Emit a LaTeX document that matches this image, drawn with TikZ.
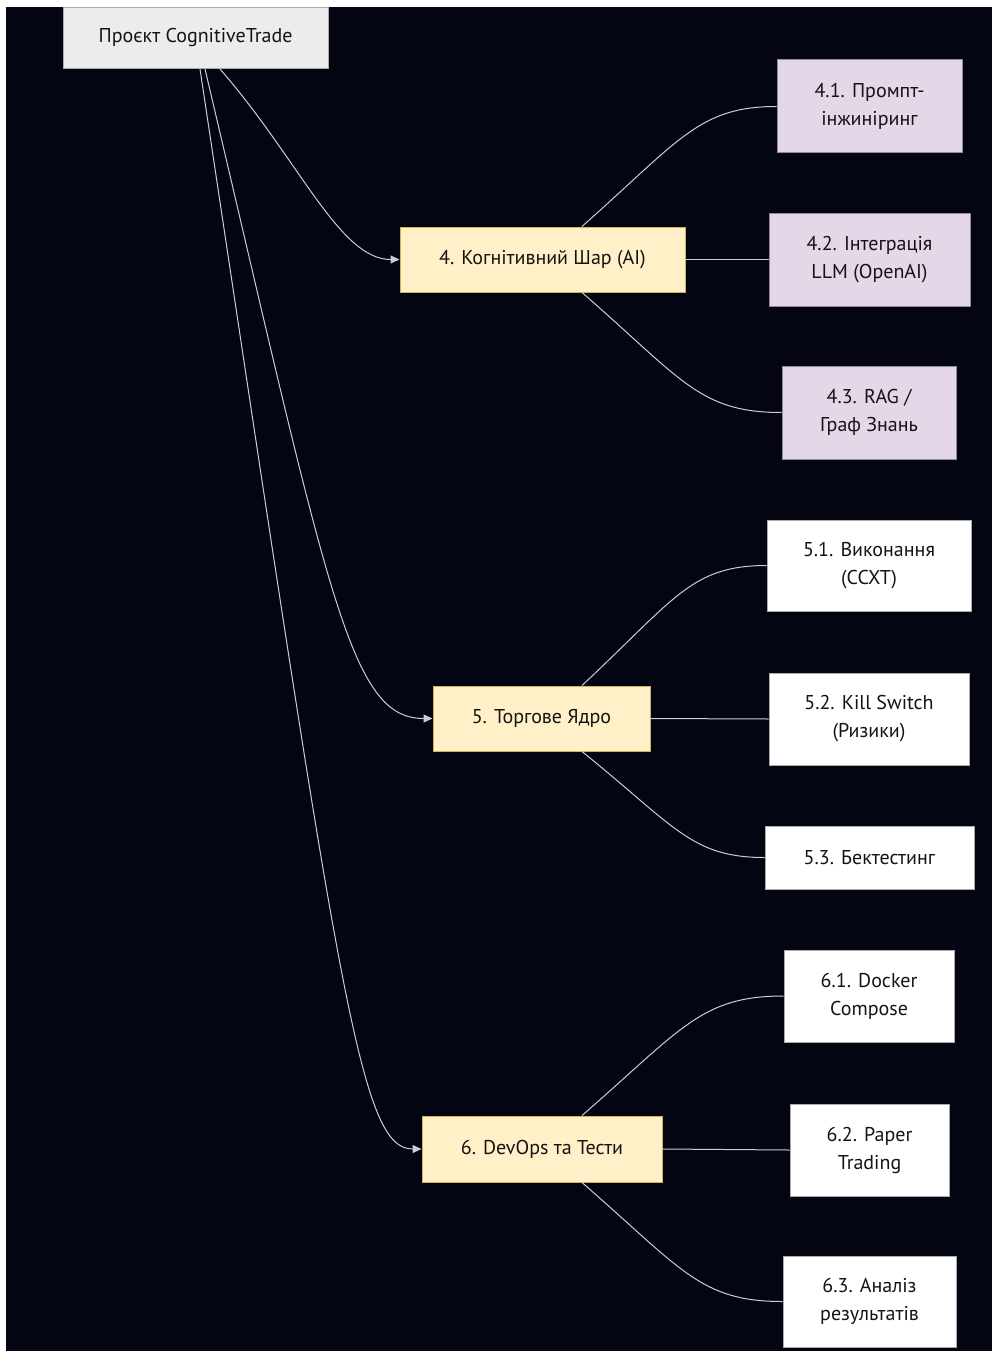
\documentclass[tikz,border=0pt]{standalone}
\usepackage{fontspec}
\setmainfont{PT Sans}
\usetikzlibrary{arrows.meta}
\definecolor{bgdark}{RGB}{3,6,18}
\definecolor{rootfill}{RGB}{236,236,236}
\definecolor{rootdraw}{RGB}{170,170,170}
\definecolor{mainfill}{RGB}{255,240,200}
\definecolor{maindraw}{RGB}{210,175,90}
\definecolor{aifill}{RGB}{228,215,232}
\definecolor{aidraw}{RGB}{150,135,160}
\definecolor{subdraw}{RGB}{170,170,170}
\definecolor{edgecol}{RGB}{205,205,212}
\definecolor{txt}{RGB}{20,20,20}
\tikzset{
  box/.style={rectangle, inner sep=0pt, line width=1pt, align=center, text=txt,
    font=\fontsize{20}{28}\selectfont},
  rootbox/.style={box, fill=rootfill, draw=rootdraw},
  mainbox/.style={box, fill=mainfill, draw=maindraw},
  aibox/.style={box, fill=aifill, draw=aidraw},
  subbox/.style={box, fill=white, draw=subdraw},
  link/.style={draw=edgecol, line width=1pt},
  arrlink/.style={link, -{Triangle[length=9pt,width=8pt]}},
}
\begin{document}
\begin{tikzpicture}[x=1pt,y=-1pt]
\useasboundingbox (0,0) rectangle (992,1351);
\fill[white] (0,0) rectangle (992,1351);
\fill[bgdark] (6,7) rectangle (992,1351);

\node[rootbox, minimum width=265pt, minimum height=61pt] (root) at (195.5,38) {Проєкт CognitiveTrade};

\node[mainbox, minimum width=285pt, minimum height=65pt] (n4) at (542.5,259.5) {4. Когнітивний Шар (AI)};
\node[aibox, minimum width=185pt, minimum height=93pt] (n41) at (869.5,106.5) {4.1. Промпт-\\інжиніринг};
\node[aibox, minimum width=201pt, minimum height=93pt] (n42) at (869.5,259.5) {4.2. Інтеграція\\LLM (OpenAI)};
\node[aibox, minimum width=174pt, minimum height=93pt] (n43) at (869,412.5) {4.3. RAG /\\Граф Знань};

\node[mainbox, minimum width=217pt, minimum height=65pt] (n5) at (541.5,718.5) {5. Торгове Ядро};
\node[subbox, minimum width=204pt, minimum height=91pt] (n51) at (869,565.5) {5.1. Виконання\\(CCXT)};
\node[subbox, minimum width=200pt, minimum height=92pt] (n52) at (869,719) {5.2. Kill Switch\\(Ризики)};
\node[subbox, minimum width=209pt, minimum height=63pt] (n53) at (869.5,857.5) {5.3. Бектестинг};

\node[mainbox, minimum width=240pt, minimum height=66pt] (n6) at (542,1149) {6. DevOps та Тести};
\node[subbox, minimum width=170pt, minimum height=92pt] (n61) at (869,996) {6.1. Docker\\Compose};
\node[subbox, minimum width=159pt, minimum height=92pt] (n62) at (869.5,1150) {6.2. Paper\\Trading};
\node[subbox, minimum width=173pt, minimum height=91pt] (n63) at (869.5,1301.5) {6.3. Аналіз\\результатів};

% root edges
\draw[arrlink] ([xshift=24.5pt]root.south) .. controls +(80,92) and +(-60,0) .. (n4.west);
\draw[arrlink] ([xshift=9.5pt]root.south) .. controls +(125,530) and +(-83,0) .. (n5.west);
\draw[arrlink] ([xshift=4.5pt]root.south) .. controls +(140,930) and +(-62,0) .. (n6.west);

% child edges
\draw[link] ([xshift=39.5pt]n4.north) .. controls +(98,-87) and +(-77,0) .. (n41.west);
\draw[link] (n4.east) -- (n42.west);
\draw[link] ([xshift=39.5pt]n4.south) .. controls +(100,87) and +(-82,0) .. (n43.west);

\draw[link] ([xshift=40.5pt]n5.north) .. controls +(93,-87) and +(-75,0) .. (n51.west);
\draw[link] (n5.east) -- (n52.west);
\draw[link] ([xshift=40.5pt]n5.south) .. controls +(93,75) and +(-73,0) .. (n53.west);

\draw[link] ([xshift=40pt]n6.north) .. controls +(100,-87) and +(-82,0) .. (n61.west);
\draw[link] (n6.east) -- (n62.west);
\draw[link] ([xshift=40pt]n6.south) .. controls +(100,87) and +(-82,0) .. (n63.west);
\end{tikzpicture}
\end{document}
